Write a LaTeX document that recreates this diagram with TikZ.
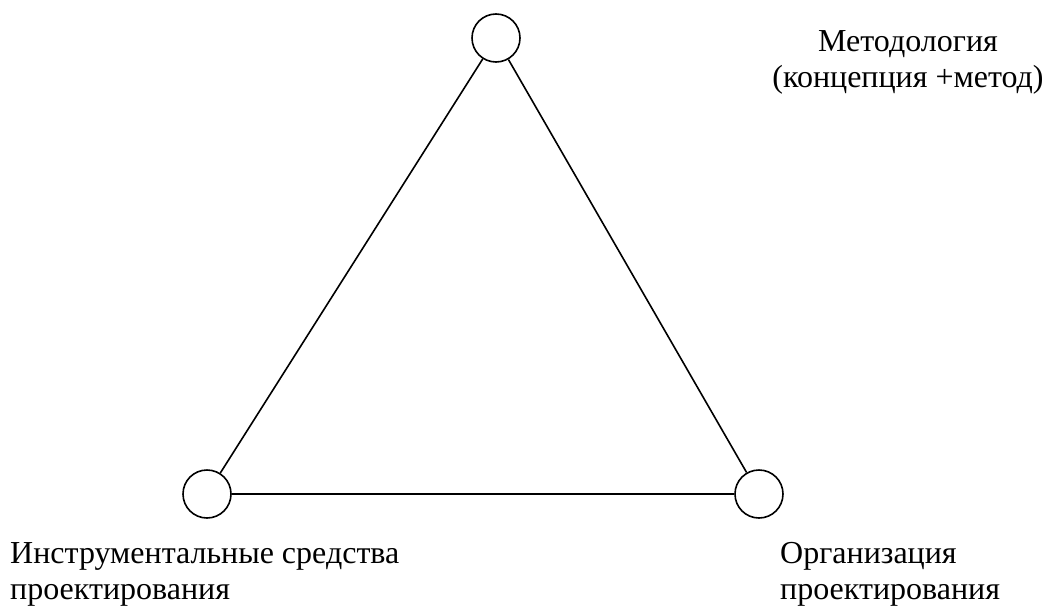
\documentclass[tikz,border=0pt]{standalone}
\usepackage{fontspec}
\setmainfont{Liberation Serif}
\usetikzlibrary{positioning}

\tikzset{
  vertex/.style={draw,circle,line width=1.6pt,minimum size=48pt,inner sep=0pt,fill=white},
  edge/.style={line width=1.6pt},
  caption/.style={inner sep=0pt,font=\fontsize{32}{36}\selectfont}
}

\begin{document}
\begin{tikzpicture}[x=1pt,y=-1pt]
 \useasboundingbox (0,0) rectangle (1043,605);
 \node[vertex] (method) at (496,38) {};
 \node[vertex] (tools) at (207,494) {};
 \node[vertex] (org) at (759,494) {};
 \draw[edge] (method)--(tools) (tools)--(org) (org)--(method);
 \node[caption,align=center,anchor=north] (methodlbl) at (908,30) {Методология\\(концепция +метод)};
 \node[caption,align=left,anchor=north west] (toolslbl) at (10,542) {Инструментальные средства\\проектирования};
 \node[caption,align=left,anchor=north west] (orglbl) at (780,542) {Организация\\проектирования};
\end{tikzpicture}
\end{document}
